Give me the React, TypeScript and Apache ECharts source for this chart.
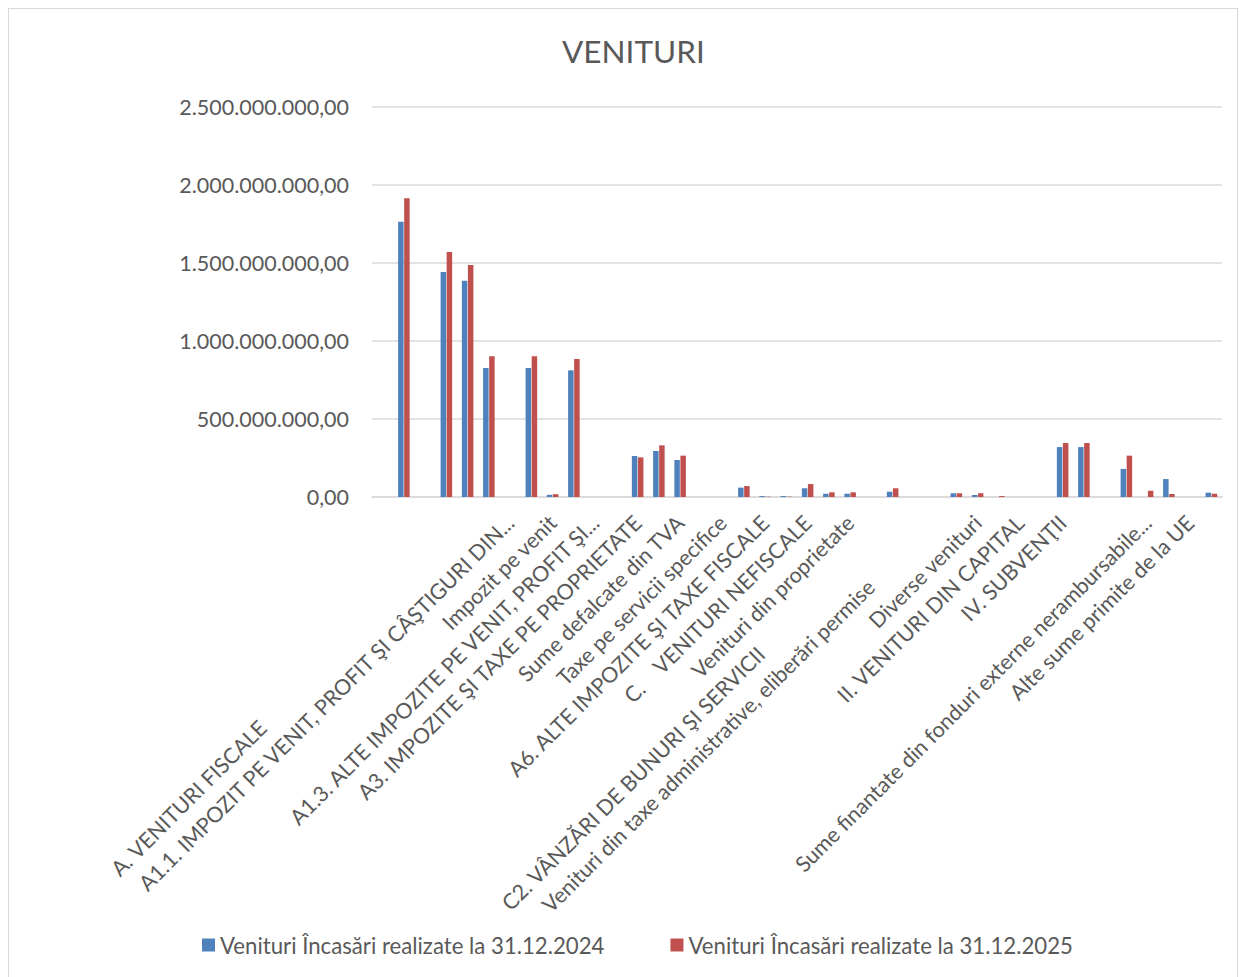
import React, { useEffect, useRef } from "react";
import * as echarts from "echarts";

const titleText = "VENITURI";

const categories: string[] = [
  "", "", "", "",
  "A. VENITURI FISCALE", "",
  "A1.1. IMPOZIT PE VENIT, PROFIT ŞI CÂŞTIGURI DIN...", "",
  "Impozit pe venit", "",
  "A1.3. ALTE IMPOZITE PE VENIT, PROFIT ŞI...", "",
  "A3. IMPOZITE ŞI TAXE PE PROPRIETATE", "",
  "Sume defalcate din TVA", "",
  "Taxe pe servicii specifice", "",
  "A6. ALTE IMPOZITE ŞI TAXE FISCALE", "",
  "C.    VENITURI NEFISCALE", "",
  "Venituri din proprietate", "",
  "C2. VÂNZĂRI DE BUNURI ŞI SERVICII", "",
  "Venituri din taxe administrative, eliberări permise", "",
  "Diverse venituri", "",
  "II. VENITURI DIN CAPITAL", "",
  "IV. SUBVENŢII", "",
  "", "",
  "Sume finantate din fonduri externe nerambursabile...", "",
  "Alte sume primite de la UE", "",
];

const seriesNames = [
  "Venituri Încasări realizate la 31.12.2024",
  "Venituri Încasări realizate la 31.12.2025",
];

const values2024: number[] = [
  0, 1765e6, 0, 1442e6, 1387e6, 827e6, 0, 827e6, 14e6, 812e6,
  0, 0, 263e6, 295e6, 237e6, 0, 0, 60e6, 6e6, 6e6,
  56e6, 21e6, 21e6, 0, 34e6, 0, 0, 24e6, 13e6, 0,
  0, 0, 320e6, 320e6, 0, 180e6, 0, 115e6, 0, 28e6,
];

const values2025: number[] = [
  0, 1915e6, 0, 1570e6, 1487e6, 902e6, 0, 902e6, 18e6, 885e6,
  0, 0, 254e6, 331e6, 265e6, 0, 0, 70e6, 2e6, 2e6,
  83e6, 30e6, 30e6, 0, 56e6, 0, 0, 24e6, 24e6, 6e6,
  0, 0, 346e6, 346e6, 0, 265e6, 40e6, 19e6, 0, 21e6,
];

const yMin = 0;
const yMax = 2500000000;
const yInterval = 500000000;

function fmtRo(v: number): string {
  const int = Math.round(v).toString().replace(/\B(?=(\d{3})+(?!\d))/g, ".");
  return int + ",00";
}

// label shift (px along the rotated text) for labels that sit lower in the original
const labelShift: Record<number, string> = { 4: "a", 24: "b", 26: "c" };

export default function App() {
  const ref = useRef<HTMLDivElement>(null);
  useEffect(() => {
    if (!ref.current) return;
    const chart = echarts.init(ref.current, null, { renderer: "svg" });
    const font = "Lato, 'Open Sans', sans-serif";
    const txt = "#595959";
    const lblSize = 21.5;
    chart.setOption({
      animation: false,
      title: {
        text: titleText,
        left: 549,
        top: 22,
        textStyle: { fontFamily: font, fontSize: 31.5, fontWeight: "normal", color: txt },
      },
      legend: {
        left: 189,
        top: 921,
        icon: "rect",
        itemWidth: 13,
        itemHeight: 13,
        itemGap: 66,
        textStyle: { fontFamily: font, fontSize: 22.2, color: txt },
        data: seriesNames,
      },
      grid: { left: 364, right: 16, top: 99, height: 390, containLabel: false },
      xAxis: {
        type: "category",
        data: categories,
        axisLine: { lineStyle: { color: "#D9D9D9", width: 1.5 } },
        axisTick: { show: false },
        axisLabel: {
          interval: 0,
          rotate: 45,
          margin: 22,
          color: txt,
          fontFamily: font,
          fontSize: lblSize,
          formatter: (v: string, i: number) => (labelShift[i] ? `{${labelShift[i]}|${v}}` : v),
          rich: {
            a: { padding: [0, 290, 0, 0], fontFamily: font, fontSize: lblSize, color: txt },
            b: { padding: [0, 186, 0, 0], fontFamily: font, fontSize: lblSize, color: txt },
            c: { padding: [0, 91, 0, 0], fontFamily: font, fontSize: lblSize, color: txt },
          },
        },
      },
      yAxis: {
        type: "value",
        min: yMin,
        max: yMax,
        interval: yInterval,
        axisLine: { show: false },
        axisTick: { show: false },
        splitLine: { lineStyle: { color: "#D9D9D9", width: 1.5 } },
        axisLabel: {
          margin: 23,
          color: txt,
          fontFamily: font,
          fontSize: 21.5,
          formatter: (v: number) => fmtRo(v),
        },
      },
      series: [
        {
          name: seriesNames[0],
          type: "bar",
          data: values2024,
          barWidth: 5.5,
          barGap: "10%",
          itemStyle: { color: "#4F81BD" },
        },
        {
          name: seriesNames[1],
          type: "bar",
          data: values2025,
          barWidth: 5.5,
          barGap: "10%",
          itemStyle: { color: "#C0504D" },
        },
      ],
    });
    return () => chart.dispose();
  }, []);
  return (
    <div style={{ position: "relative", width: 1230, height: 985 }}>
      <div ref={ref} style={{ position: "absolute", left: 0, top: 0, width: 1230, height: 985 }} />
      <div
        style={{
          position: "absolute",
          left: 0,
          top: 0,
          width: 1230,
          height: 985,
          border: "1.5px solid #D9D9D9",
          boxSizing: "border-box",
          pointerEvents: "none",
        }}
      />
    </div>
  );
}
